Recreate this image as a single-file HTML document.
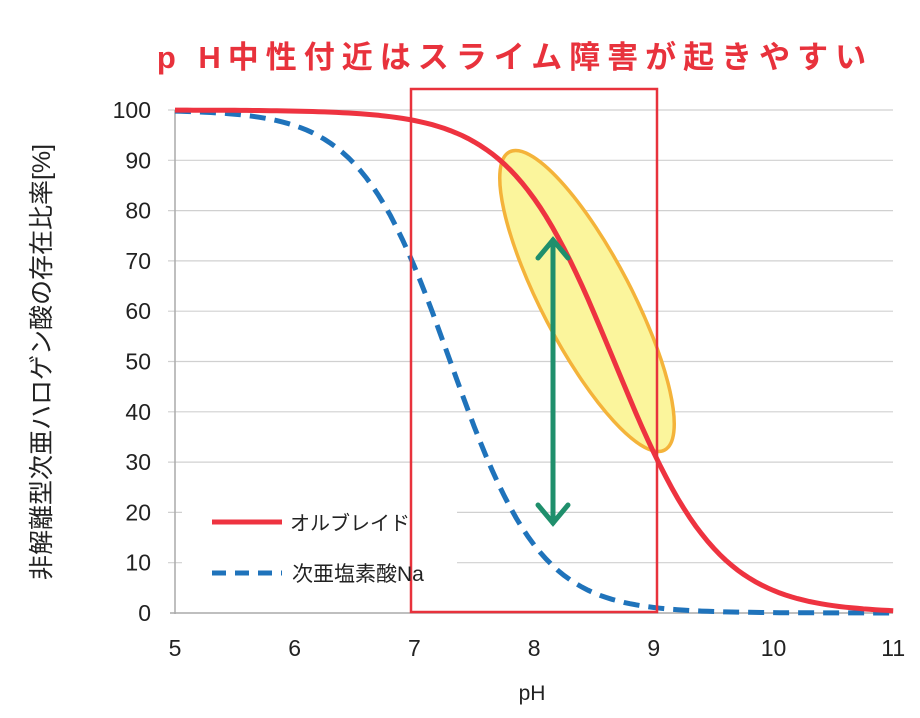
<!DOCTYPE html>
<html><head><meta charset="utf-8"><style>
body{margin:0;background:#fff;}
svg{display:block;font-family:"Liberation Sans","Noto Sans CJK JP",sans-serif;}
</style></head><body>
<svg width="920" height="718" viewBox="0 0 920 718" xmlns="http://www.w3.org/2000/svg">
<text x="515" y="68" text-anchor="middle" font-size="31" font-weight="bold" fill="#e8323c" letter-spacing="7" font-family="'Liberation Sans','Noto Sans CJK JP',sans-serif">p H中性付近はスライム障害が起きやすい</text>
<g stroke="#d0d0d0" stroke-width="1.2" id="grid"></g>
<line x1="175" y1="110" x2="175" y2="614" stroke="#aaa" stroke-width="1.5"/>
<line x1="170" y1="613" x2="893" y2="613" stroke="#aaa" stroke-width="1.5"/>
<g font-size="23" fill="#222" text-anchor="end" id="ylab"></g>
<g font-size="23" fill="#222" text-anchor="middle" id="xlab"></g>
<text x="532" y="700" font-size="21" fill="#222" text-anchor="middle">pH</text>
<text transform="translate(50,362) rotate(-90)" font-size="25" fill="#222" text-anchor="middle">非解離型次亜ハロゲン酸の存在比率[%]</text>
<rect x="182" y="495" width="275" height="105" fill="#fff"/>
<path id="blue" fill="none" stroke="#1f73bb" stroke-width="5" stroke-dasharray="16,9"/>
<ellipse cx="587" cy="301" rx="168" ry="45" transform="rotate(62.5 587 301)" fill="#fbf59c" stroke="#f4b33a" stroke-width="3.5"/>
<path id="red" fill="none" stroke="#ee3340" stroke-width="5"/>
<rect x="411" y="89" width="246" height="523" fill="none" stroke="#e8323c" stroke-width="2.5"/>
<g stroke="#1f8f6c" stroke-width="5" fill="none" stroke-linecap="round">
<line x1="553" y1="240" x2="553" y2="523"/>
<polyline points="538,258 553,240 568,258"/>
<polyline points="538,505 553,523 568,505"/>
</g>
<line x1="212" y1="522" x2="282" y2="522" stroke="#ee3340" stroke-width="5"/>
<text x="290" y="530" font-size="20" fill="#222">オルブレイド</text>
<line x1="212" y1="573" x2="282" y2="573" stroke="#1f73bb" stroke-width="5" stroke-dasharray="14,9"/>
<text x="292" y="581" font-size="21" fill="#222">次亜塩素酸Na</text>
</svg>
<script>
var X=function(p){return 175+(p-5)*119.7},Y=function(v){return 613-v*5.03};
var g=document.getElementById('grid'),yl=document.getElementById('ylab'),xl=document.getElementById('xlab'),ns='http://www.w3.org/2000/svg';
for(var v=10;v<=100;v+=10){var l=document.createElementNS(ns,'line');l.setAttribute('x1',168);l.setAttribute('x2',893);l.setAttribute('y1',Y(v));l.setAttribute('y2',Y(v));g.appendChild(l);}
for(var v=0;v<=100;v+=10){var t=document.createElementNS(ns,'text');t.setAttribute('x',151);t.setAttribute('y',Y(v)+8);t.textContent=v;yl.appendChild(t);}
for(var p=5;p<=11;p++){var t=document.createElementNS(ns,'text');t.setAttribute('x',X(p));t.setAttribute('y',656);t.textContent=p;xl.appendChild(t);}
function path(pk,s){var d='';for(var p=5;p<=11.001;p+=0.05){var f=100/(1+Math.pow(10,s*(p-pk)));d+=(d?'L':'M')+X(p).toFixed(1)+','+Y(f).toFixed(1);}return d;}
document.getElementById('red').setAttribute('d',path(8.67,1));
document.getElementById('blue').setAttribute('d',path(7.3,1.15));
</script>
</body></html>
